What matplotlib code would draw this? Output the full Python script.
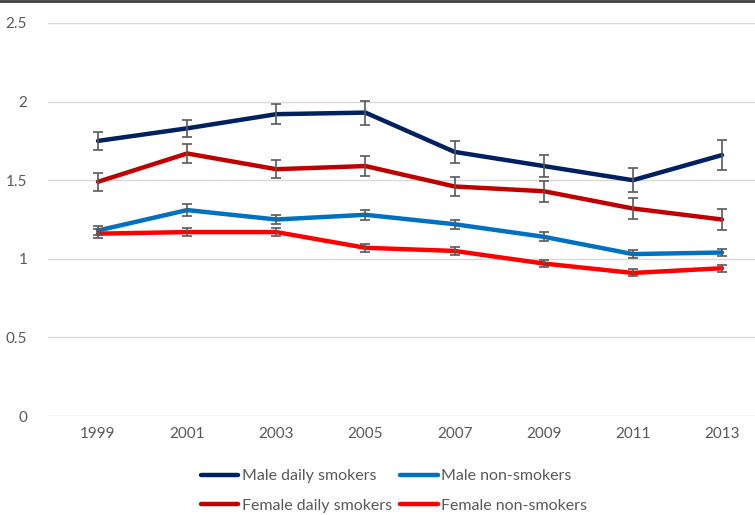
import numpy as np
import matplotlib.pyplot as plt
from matplotlib.lines import Line2D

plt.rcParams['font.family'] = ['Lato', 'DejaVu Sans']

years = ['1999', '2001', '2003', '2005', '2007', '2009', '2011', '2013']

male_daily = [1.75, 1.83, 1.92, 1.93, 1.68, 1.59, 1.50, 1.66]
male_daily_err = [0.055, 0.056, 0.062, 0.076, 0.071, 0.070, 0.077, 0.098]

female_daily = [1.49, 1.67, 1.57, 1.59, 1.46, 1.43, 1.32, 1.25]
female_daily_err = [0.056, 0.062, 0.059, 0.065, 0.060, 0.067, 0.067, 0.068]

male_non = [1.18, 1.31, 1.25, 1.28, 1.22, 1.14, 1.03, 1.04]
male_non_err = [0.030, 0.036, 0.030, 0.032, 0.029, 0.028, 0.025, 0.025]

female_non = [1.16, 1.17, 1.17, 1.07, 1.05, 0.97, 0.91, 0.94]
female_non_err = [0.027, 0.028, 0.025, 0.025, 0.025, 0.022, 0.022, 0.022]

series = [
    ('Male daily smokers', male_daily, male_daily_err, '#002060'),
    ('Female daily smokers', female_daily, female_daily_err, '#C00000'),
    ('Male non-smokers', male_non, male_non_err, '#0070C0'),
    ('Female non-smokers', female_non, female_non_err, '#FF0000'),
]

fig = plt.figure(figsize=(7.55, 5.15), dpi=100)
ax = fig.add_axes([48/755, 99/515, 707/755, 393/515])

x = np.arange(len(years))
handles = []
# draw order: bottom series first so navy ends on top
for name, vals, err, col in series[::-1]:
    ax.errorbar(x, vals, yerr=err, fmt='none', ecolor='#595959',
                elinewidth=1.2, capsize=3.5, capthick=1.2, zorder=3)
    ax.plot(x, vals, color=col, lw=3.2, solid_capstyle='round', zorder=2)

for name, vals, err, col in series:
    handles.append(Line2D([], [], color=col, lw=3.2, solid_capstyle='round', label=name))

ax.set_xlim(-0.561, 7.37)
ax.set_ylim(0, 2.5)
ax.set_yticks([0, 0.5, 1, 1.5, 2, 2.5])
ax.set_yticklabels(['0', '0.5', '1', '1.5', '2', '2.5'])
ax.set_xticks(x)
ax.set_xticklabels(years)
ax.grid(axis='y', color='#d9d9d9', lw=1)
ax.set_axisbelow(True)
for s in ax.spines.values():
    s.set_visible(False)
ax.tick_params(length=0, labelsize=11, colors='#595959', pad=8)
ax.tick_params(axis='y', pad=15)

leg = fig.legend(handles=handles, loc='center', bbox_to_anchor=(394/755, 1 - 491/515),
                 ncol=2, frameon=False, fontsize=11.5, handlelength=2.35,
                 handletextpad=0.2, columnspacing=0.55, labelspacing=0.95)
for t in leg.get_texts():
    t.set_color('#595959')

fig.add_artist(Line2D([0, 1], [0.999, 0.999], transform=fig.transFigure,
                      color='#404040', lw=2))

fig.savefig('out.png', dpi=100)
